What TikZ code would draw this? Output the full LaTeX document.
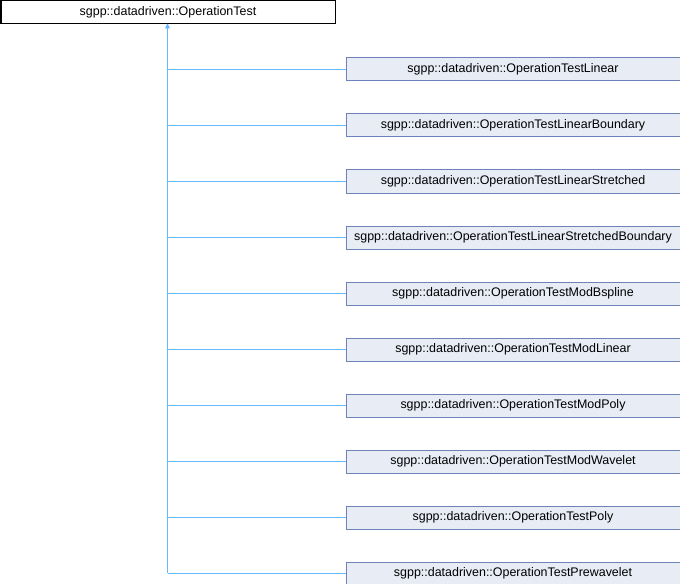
\documentclass[tikz,border=0pt]{standalone}
\usepackage{fontspec}
\setmainfont{Liberation Sans}
\usetikzlibrary{arrows.meta}
\definecolor{boxborder}{HTML}{6C82BA}
\definecolor{boxfill}{HTML}{E8ECF5}
\definecolor{edgecol}{HTML}{63B8FF}
\tikzset{
  x=1bp,y=-1bp,
  rootbox/.style={draw=black,fill=white,line width=1bp,minimum width=334bp,minimum height=23bp,inner sep=0pt,anchor=north west,font=\fontsize{12.5}{14}\selectfont},
  childbox/.style={draw=boxborder,fill=boxfill,line width=1bp,minimum width=334bp,minimum height=23bp,inner sep=0pt,anchor=north west,font=\fontsize{12.5}{14}\selectfont},
  edge/.style={draw=edgecol,line width=1bp},
}
\begin{document}
\begin{tikzpicture}
\useasboundingbox (0,0) rectangle (680,584);
\node[rootbox] (root) at (0.5,0.5) {sgpp::datadriven::OperationTest};
\foreach \name [count=\i from 0] in {Linear,LinearBoundary,LinearStretched,LinearStretchedBoundary,ModBspline,ModLinear,ModPoly,ModWavelet,Poly,Prewavelet} {
  \node[childbox] (c\i) at (345.5,57.5+56*\i) {sgpp::datadriven::OperationTest\name};
}
\coordinate (top) at (167.5,23.5);
\coordinate (bot) at (167.5,572.5);
\draw[edge,-{Triangle[length=5bp,width=5bp]}] (bot) -- (top);
\foreach \i in {0,...,9} {
  \draw[edge] (c\i.west) -- (c\i.west -| top);
}
\end{tikzpicture}
\end{document}
